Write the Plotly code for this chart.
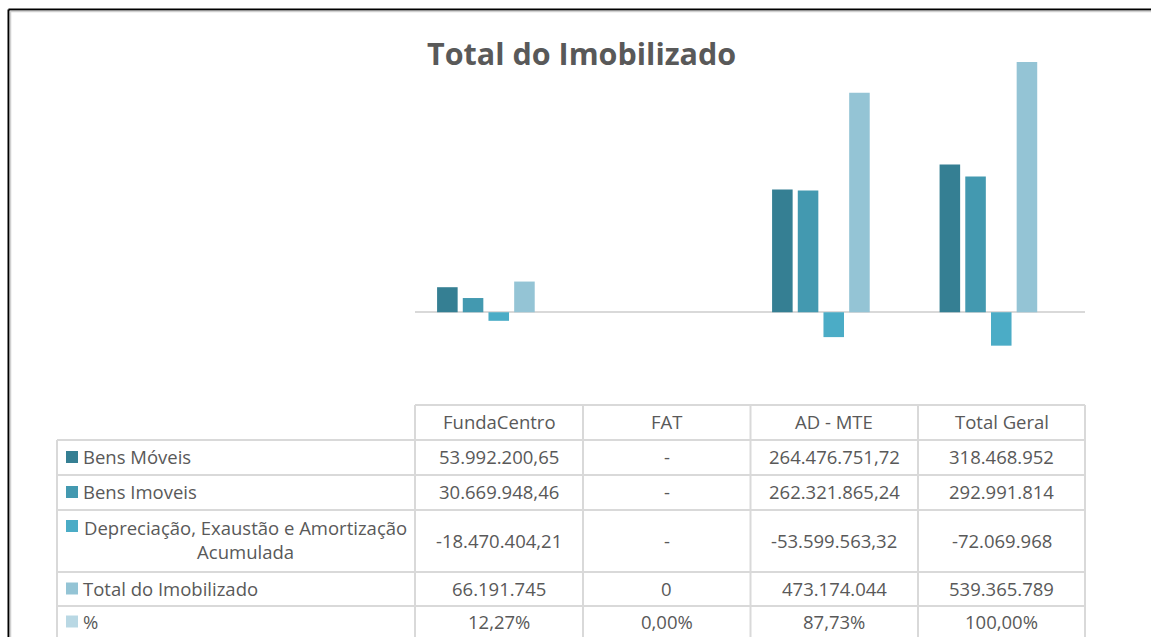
import plotly.graph_objects as go

categories = ["FundaCentro", "FAT", "AD - MTE", "Total Geral"]
series_names = ["Bens Móveis", "Bens Imoveis", "Depreciação, Exaustão e Amortização<br>Acumulada",
                "Total do Imobilizado", "%"]
bens_moveis = [53992200.65, 0, 264476751.72, 318468952]
bens_imoveis = [30669948.46, 0, 262321865.24, 292991814]
depreciacao = [-18470404.21, 0, -53599563.32, -72069968]
total_imob = [66191745, 0, 473174044, 539365789]
percentual = [0.1227, 0.0, 0.8773, 1.0]
colors = ["#357F93", "#4399B0", "#4BACC6", "#94C4D5", "#B9D8E4"]

W, H = 1151, 637
L, R, T, B = 415, 1085, 34, 405  # plot area in pixels


def px(x):
    return (x - L) / (R - L)


def py(y):
    return (B - y) / (B - T)


def fmt_num(v, dec):
    s = f"{abs(v):,.{dec}f}"
    s = s.replace(",", "X").replace(".", ",").replace("X", ".")
    return ("-" if v < 0 else "") + s


def row_text(vals, kind):
    out = []
    for i, v in enumerate(vals):
        if kind == "pct":
            out.append(fmt_num(v * 100, 2) + "%")
        elif kind == "int":
            out.append(fmt_num(v, 0))
        else:
            if v == 0:
                out.append("-")
            else:
                out.append(fmt_num(v, 0 if i == 3 else 2))
    return out


rows = [
    (bens_moveis, "dec"),
    (bens_imoveis, "dec"),
    (depreciacao, "dec"),
    (total_imob, "int"),
    (percentual, "pct"),
]

fig = go.Figure()
all_series = [bens_moveis, bens_imoveis, depreciacao, total_imob, percentual]
for name, vals, c in zip(series_names, all_series, colors):
    fig.add_trace(go.Bar(
        x=categories, y=vals, name=name.replace("<br>", " "),
        marker=dict(color=c, line=dict(width=0)),
    ))

txt = "#595959"
font_fam = "Open Sans, Calibri, sans-serif"
line_c = "#D9D9D9"
shapes = []
ann = []

# Outer frame (top & left edges)
shapes.append(dict(type="line", xref="paper", yref="paper", x0=px(8.5), x1=px(1151), y0=py(9.5), y1=py(9.5),
                   line=dict(color="#000000", width=2)))
shapes.append(dict(type="line", xref="paper", yref="paper", x0=px(8.5), x1=px(8.5), y0=py(9.5), y1=py(640),
                   line=dict(color="#000000", width=2)))
shapes.append(dict(type="line", xref="paper", yref="paper", x0=px(10), x1=px(1151), y0=py(11.5), y1=py(11.5),
                   line=dict(color="#D0D0D0", width=1.5)))
shapes.append(dict(type="line", xref="paper", yref="paper", x0=px(10.5), x1=px(10.5), y0=py(11), y1=py(640),
                   line=dict(color="#D0D0D0", width=1.5)))

# Table grid
col_x = [415, 583, 750.5, 918, 1085]
row_y = [405, 440, 475, 510, 572, 606, 641]
shapes.append(dict(type="line", xref="paper", yref="paper", x0=px(415), x1=px(1085), y0=py(405), y1=py(405),
                   line=dict(color=line_c, width=2)))
for yv in row_y[1:]:
    shapes.append(dict(type="line", xref="paper", yref="paper", x0=px(57), x1=px(1085), y0=py(yv), y1=py(yv),
                       line=dict(color=line_c, width=2)))
shapes.append(dict(type="line", xref="paper", yref="paper", x0=px(57), x1=px(57), y0=py(440), y1=py(641),
                   line=dict(color=line_c, width=2)))
for xv in col_x:
    shapes.append(dict(type="line", xref="paper", yref="paper", x0=px(xv), x1=px(xv), y0=py(405), y1=py(641),
                       line=dict(color=line_c, width=2)))

fs = 18.5
# Header
for j, cat in enumerate(categories):
    cx = (col_x[j] + col_x[j + 1]) / 2
    ann.append(dict(x=px(cx), y=py(421.5), xref="paper", yref="paper", text=cat, showarrow=False,
                    xanchor="center", yanchor="middle", font=dict(family=font_fam, size=fs, color=txt)))

# Rows
for i, ((vals, kind), name, c) in enumerate(zip(rows, series_names, colors)):
    y0, y1 = row_y[i + 1], row_y[i + 2]
    cy = (y0 + y1) / 2 - 1
    if i == 4:
        cy = 621
    texts = row_text(vals, kind)
    for j, t in enumerate(texts):
        cx = (col_x[j] + col_x[j + 1]) / 2
        ann.append(dict(x=px(cx), y=py(cy), xref="paper", yref="paper", text=t, showarrow=False,
                        xanchor="center", yanchor="middle", font=dict(family=font_fam, size=fs, color=txt)))
    if "<br>" in name:
        key_cy = 526
        ann.append(dict(x=px(245), y=py(cy - 1), xref="paper", yref="paper", text=name, showarrow=False,
                        xanchor="center", yanchor="middle", align="center",
                        font=dict(family=font_fam, size=fs, color=txt)))
    else:
        key_cy = cy + 0.5
        ann.append(dict(x=px(81), y=py(cy), xref="paper", yref="paper", text=name, showarrow=False,
                        xanchor="left", yanchor="middle", font=dict(family=font_fam, size=fs, color=txt)))
    shapes.append(dict(type="rect", xref="paper", yref="paper", x0=px(66), x1=px(78),
                       y0=py(key_cy - 6), y1=py(key_cy + 6), fillcolor=c, line=dict(width=0)))

# Title
ann.append(dict(x=px(581), y=py(53), xref="paper", yref="paper", text="<b>Total do Imobilizado</b>",
                showarrow=False, xanchor="center", yanchor="middle",
                font=dict(family=font_fam, size=30.5, color=txt)))

fig.update_layout(
    width=W, height=H,
    margin=dict(l=L, r=W - R, t=T, b=H - B, pad=0),
    paper_bgcolor="white", plot_bgcolor="white",
    barmode="group", bargap=0.233, bargroupgap=0.2,
    showlegend=False,
    xaxis=dict(showticklabels=False, showgrid=False, zeroline=False, showline=False, ticks=""),
    yaxis=dict(range=[-200e6, 600e6], showticklabels=False, showgrid=False, zeroline=True,
               zerolinecolor=line_c, zerolinewidth=2, ticks=""),
    shapes=shapes, annotations=ann,
)

fig.write_html("out.html", config={"displayModeBar": False},
               post_script="document.body.style.margin='0';document.body.style.overflow='hidden';")
